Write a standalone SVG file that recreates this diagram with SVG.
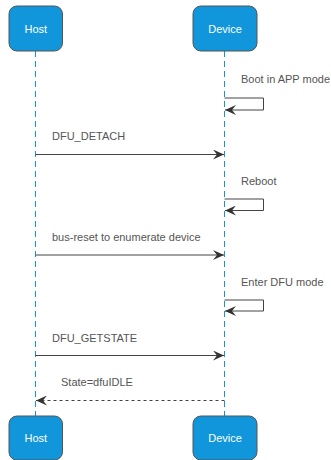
<svg xmlns="http://www.w3.org/2000/svg" width="331" height="460" viewBox="0 0 331 460">
<style>
.box{fill:#1296db;stroke:#555;stroke-width:1}
.bt{font-family:"Liberation Sans",Arial,sans-serif;font-size:11px;fill:#fff;text-anchor:middle}
.lbl{font-family:"Liberation Sans",Arial,sans-serif;font-size:11px;fill:#555}
.life{stroke:#1296db;stroke-width:1;stroke-dasharray:6,4;fill:none}
.msg{stroke:#444;stroke-width:1;fill:none}
.dash{stroke-dasharray:3,3}
</style>
<defs>
<marker id="ah" markerWidth="12" markerHeight="10" refX="11" refY="5" orient="auto" markerUnits="userSpaceOnUse">
<path d="M0,0 L11,5 L0,10 L4,5 z" fill="#333"/>
</marker>
</defs>
<g id="lifelines">
<line class="life" x1="35.5" y1="51" x2="35.5" y2="416"/>
<line class="life" x1="224.5" y1="51" x2="224.5" y2="416"/>
</g>
<g id="host-top"><rect class="box" x="9" y="6" width="53.5" height="45" rx="8"/><text class="bt" x="35.75" y="32.5">Host</text></g>
<g id="device-top"><rect class="box" x="193" y="6" width="64" height="45" rx="8"/><text class="bt" x="225" y="32.5">Device</text></g>
<g id="host-bottom"><rect class="box" x="9" y="416" width="53.5" height="44" rx="8"/><text class="bt" x="35.75" y="442">Host</text></g>
<g id="device-bottom"><rect class="box" x="193" y="416" width="64" height="44" rx="8"/><text class="bt" x="225" y="442">Device</text></g>
<g id="connectors">
<path class="msg" d="M224.5,98 H263.5 V110 H225" marker-end="url(#ah)"/>
<line class="msg" x1="35.5" y1="154.5" x2="224" y2="154.5" marker-end="url(#ah)"/>
<path class="msg" d="M224.5,199 H263.5 V210.5 H225" marker-end="url(#ah)"/>
<line class="msg" x1="35.5" y1="255" x2="224" y2="255" marker-end="url(#ah)"/>
<path class="msg" d="M224.5,300 H263.5 V311 H225" marker-end="url(#ah)"/>
<line class="msg" x1="35.5" y1="355.5" x2="224" y2="355.5" marker-end="url(#ah)"/>
<line class="msg dash" x1="224.5" y1="400.5" x2="36" y2="400.5" marker-end="url(#ah)"/>
</g>
<g id="labels">
<text class="lbl" x="241" y="83">Boot in APP mode</text>
<text class="lbl" x="52" y="140">DFU_DETACH</text>
<text class="lbl" x="241" y="185">Reboot</text>
<text class="lbl" x="52" y="241">bus-reset to enumerate device</text>
<text class="lbl" x="241" y="286">Enter DFU mode</text>
<text class="lbl" x="52" y="342">DFU_GETSTATE</text>
<text class="lbl" x="61" y="386">State=dfuIDLE</text>
</g>
</svg>
